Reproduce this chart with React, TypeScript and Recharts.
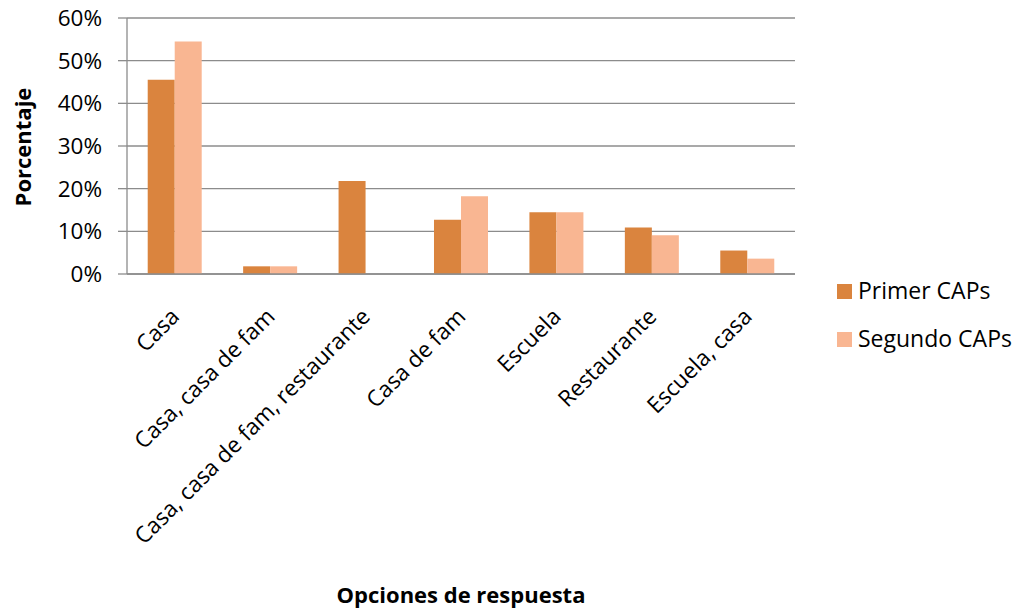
import React from "react";
import { BarChart, Bar, XAxis, YAxis, CartesianGrid, Label } from "recharts";

const categories = [
  "Casa",
  "Casa, casa de fam",
  "Casa, casa de fam, restaurante",
  "Casa de fam",
  "Escuela",
  "Restaurante",
  "Escuela, casa",
];
const primerCAPs = [45.5, 1.8, 21.8, 12.7, 14.5, 10.9, 5.5];
const segundoCAPs = [54.5, 1.8, 0, 18.2, 14.5, 9.1, 3.6];
const yTicks = [0, 10, 20, 30, 40, 50, 60];

const seriesNames = ["Primer CAPs", "Segundo CAPs"];
const colors = ["#DA843E", "#F9B692"];

const data = categories.map((c, i) => ({
  name: c,
  primer: primerCAPs[i],
  segundo: segundoCAPs[i],
}));

const FONT = "'Open Sans', sans-serif";
const GRID = "#8C8C8C";

const XTick = (props: any) => {
  const { x, y, payload } = props;
  const ax = x + 6;
  const ay = y + 44;
  return (
    <text
      x={ax}
      y={ay}
      transform={`rotate(-45, ${ax}, ${ay})`}
      textAnchor="end"
      fontFamily={FONT}
      fontSize={22.5}
      fill="#000"
    >
      {payload.value}
    </text>
  );
};

const LegendBox = () => (
  <div style={{ position: "absolute", left: 837, top: 284, fontFamily: FONT, fontSize: 23, color: "#000" }}>
    {seriesNames.map((n, i) => (
      <div
        key={n}
        style={{
          position: "absolute",
          left: 0,
          top: i * 47.7,
          display: "flex",
          alignItems: "center",
          whiteSpace: "nowrap",
          height: 15,
        }}
      >
        <div style={{ width: 15, height: 15, background: colors[i], marginRight: 6, flex: "none" }} />
        <span style={{ lineHeight: "15px", position: "relative", top: -1 }}>{n}</span>
      </div>
    ))}
  </div>
);

export default function App() {
  return (
    <div style={{ position: "absolute", left: 0, top: 0, width: 1016, height: 608, background: "#fff" }}>
      <BarChart
        width={1016}
        height={608}
        data={data}
        margin={{ top: 18, right: 221, left: 0, bottom: 234 }}
        barCategoryGap="21.7%"
        barGap={0}
      >
        <CartesianGrid vertical={false} stroke={GRID} strokeWidth={1.3} />
        <XAxis
          dataKey="name"
          interval={0}
          height={100}
          tickLine={false}
          tickSize={0}
          tickMargin={0}
          axisLine={{ stroke: GRID, strokeWidth: 1.3 }}
          tick={<XTick />}
        >
          <Label
            value="Opciones de respuesta"
            content={() => (
              <text
                x={461}
                y={603}
                textAnchor="middle"
                fontFamily={FONT}
                fontSize={22}
                fontWeight="bold"
                fill="#000"
              >
                Opciones de respuesta
              </text>
            )}
          />
        </XAxis>
        <YAxis
          width={127}
          domain={[0, 60]}
          ticks={yTicks}
          interval={0}
          tickSize={9}
          tickMargin={16}
          tickFormatter={(v: number) => `${v}%`}
          tick={{ fontFamily: FONT, fontSize: 22.5, fill: "#000" }}
          axisLine={{ stroke: GRID, strokeWidth: 1.3 }}
          tickLine={{ stroke: GRID, strokeWidth: 1.3 }}
        >
          <Label
            value="Porcentaje"
            content={() => (
              <text
                x={22}
                y={147}
                transform="rotate(-90, 22, 147)"
                textAnchor="middle"
                dominantBaseline="central"
                fontFamily={FONT}
                fontSize={22}
                fontWeight="bold"
                fill="#000"
              >
                Porcentaje
              </text>
            )}
          />
        </YAxis>
        <Bar dataKey="primer" name={seriesNames[0]} fill={colors[0]} isAnimationActive={false} />
        <Bar dataKey="segundo" name={seriesNames[1]} fill={colors[1]} isAnimationActive={false} />
      </BarChart>
      <LegendBox />
    </div>
  );
}
